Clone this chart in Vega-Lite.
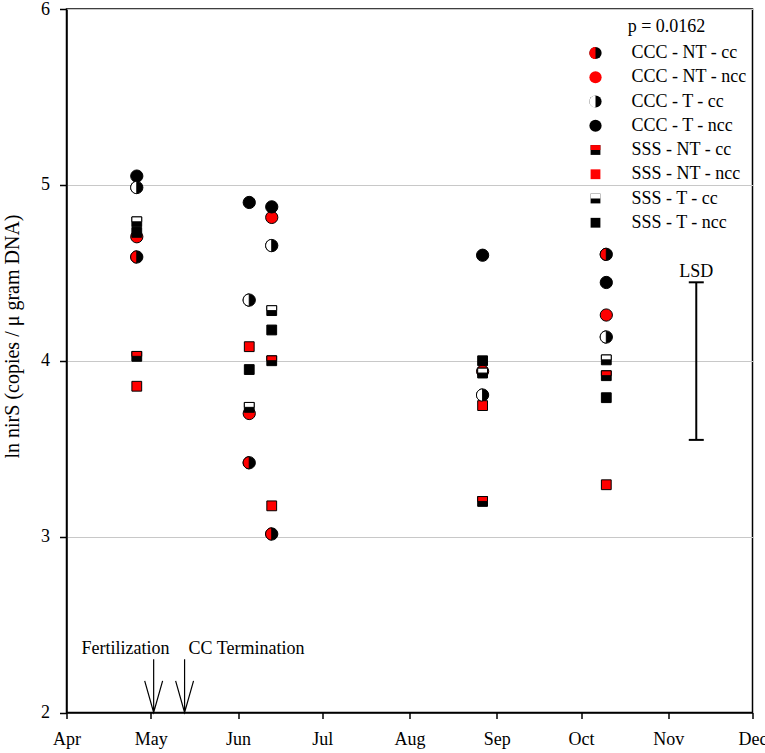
{
  "$schema": "https://vega.github.io/schema/vega-lite/v6.json",
  "description": "ln nirS copies by sampling date, tillage x cover crop treatments",
  "width": 686,
  "height": 703.5,
  "autosize": {"type": "none"},
  "padding": {"left": 66.5, "top": 9, "right": 12.5, "bottom": 40.5},
  "datasets": {
    "points": [
      {"series": "CCC - NT - cc", "date": "2016-04-26", "value": 4.59},
      {"series": "CCC - NT - ncc", "date": "2016-04-26", "value": 4.705},
      {"series": "CCC - T - cc", "date": "2016-04-26", "value": 4.985},
      {"series": "CCC - T - ncc", "date": "2016-04-26", "value": 5.05},
      {"series": "SSS - NT - cc", "date": "2016-04-26", "value": 4.025},
      {"series": "SSS - NT - ncc", "date": "2016-04-26", "value": 3.855},
      {"series": "SSS - T - cc", "date": "2016-04-26", "value": 4.79},
      {"series": "SSS - T - ncc", "date": "2016-04-26", "value": 4.73},

      {"series": "CCC - NT - cc", "date": "2016-06-05", "value": 3.42},
      {"series": "CCC - NT - ncc", "date": "2016-06-05", "value": 3.70},
      {"series": "CCC - T - cc", "date": "2016-06-05", "value": 4.345},
      {"series": "CCC - T - ncc", "date": "2016-06-05", "value": 4.90},
      {"series": "SSS - NT - ncc", "date": "2016-06-05", "value": 4.08},
      {"series": "SSS - T - cc", "date": "2016-06-05", "value": 3.735},
      {"series": "SSS - T - ncc", "date": "2016-06-05", "value": 3.95},

      {"series": "CCC - NT - cc", "date": "2016-06-13", "value": 3.015},
      {"series": "CCC - NT - ncc", "date": "2016-06-13", "value": 4.815},
      {"series": "CCC - T - cc", "date": "2016-06-13", "value": 4.655},
      {"series": "CCC - T - ncc", "date": "2016-06-13", "value": 4.875},
      {"series": "SSS - NT - cc", "date": "2016-06-13", "value": 4.0},
      {"series": "SSS - NT - ncc", "date": "2016-06-13", "value": 3.175},
      {"series": "SSS - T - cc", "date": "2016-06-13", "value": 4.285},
      {"series": "SSS - T - ncc", "date": "2016-06-13", "value": 4.175},

      {"series": "CCC - NT - ncc", "date": "2016-08-27", "value": 3.94},
      {"series": "CCC - T - cc", "date": "2016-08-27", "value": 3.805},
      {"series": "CCC - T - ncc", "date": "2016-08-27", "value": 4.60},
      {"series": "SSS - NT - cc", "date": "2016-08-27", "value": 3.20},
      {"series": "SSS - NT - ncc", "date": "2016-08-27", "value": 3.745},
      {"series": "SSS - T - cc", "date": "2016-08-27", "value": 3.93},
      {"series": "SSS - T - ncc", "date": "2016-08-27", "value": 4.0},

      {"series": "CCC - NT - cc", "date": "2016-10-10", "value": 4.605},
      {"series": "CCC - NT - ncc", "date": "2016-10-10", "value": 4.26},
      {"series": "CCC - T - cc", "date": "2016-10-10", "value": 4.135},
      {"series": "CCC - T - ncc", "date": "2016-10-10", "value": 4.445},
      {"series": "SSS - NT - cc", "date": "2016-10-10", "value": 3.915},
      {"series": "SSS - NT - ncc", "date": "2016-10-10", "value": 3.295},
      {"series": "SSS - T - cc", "date": "2016-10-10", "value": 4.005},
      {"series": "SSS - T - ncc", "date": "2016-10-10", "value": 3.79}
    ],
    "events": [
      {"event": "Fertilization", "date": "2016-05-02", "value": 2},
      {"event": "CC Termination", "date": "2016-05-13", "value": 2}
    ],
    "notes": [
      {"label": "Fertilization", "date": "2016-04-22", "value": 2.335},
      {"label": "CC Termination", "date": "2016-06-04", "value": 2.335},
      {"label": "LSD", "date": "2016-11-11", "value": 4.478}
    ],
    "lsd": [
      {"date": "2016-11-11", "lo": 3.55, "hi": 4.446}
    ]
  },
  "encoding": {
    "x": {
      "field": "date",
      "type": "temporal",
      "scale": {
        "type": "utc",
        "domain": [
          {"year": 2016, "month": 4, "date": 1, "utc": true},
          {"year": 2016, "month": 12, "date": 1, "utc": true}
        ]
      },
      "axis": {
        "title": null,
        "values": [
          {"year": 2016, "month": 4, "date": 1, "utc": true},
          {"year": 2016, "month": 5, "date": 1, "utc": true},
          {"year": 2016, "month": 6, "date": 1, "utc": true},
          {"year": 2016, "month": 7, "date": 1, "utc": true},
          {"year": 2016, "month": 8, "date": 1, "utc": true},
          {"year": 2016, "month": 9, "date": 1, "utc": true},
          {"year": 2016, "month": 10, "date": 1, "utc": true},
          {"year": 2016, "month": 11, "date": 1, "utc": true},
          {"year": 2016, "month": 12, "date": 1, "utc": true}
        ],
        "labelExpr": "utcFormat(datum.value, '%b')",
        "labelFlush": false,
        "labelOverlap": false,
        "labelPadding": 12,
        "tickSize": 6,
        "grid": false
      }
    },
    "y": {
      "field": "value",
      "type": "quantitative",
      "scale": {"domain": [2, 6], "nice": false, "zero": false},
      "axis": {
        "title": "ln nirS (copies / μ gram DNA)",
        "titleFontSize": 20,
        "titleX": -54,
        "titleY": 327,
        "titleAngle": -90,
        "titleAlign": "center",
        "titleBaseline": "middle",
        "values": [2, 3, 4, 5, 6],
        "grid": true,
        "gridColor": "#c8c8c8",
        "gridWidth": 1,
        "tickSize": 7,
        "labelPadding": 10
      }
    }
  },
  "layer": [
    {
      "data": {"name": "points"},
      "mark": {"type": "point", "filled": true, "size": 150, "opacity": 1, "stroke": "black", "strokeWidth": 1},
      "encoding": {
        "shape": {
          "field": "series",
          "type": "nominal",
          "scale": {
            "domain": ["CCC - NT - cc", "CCC - NT - ncc", "CCC - T - cc", "CCC - T - ncc", "SSS - NT - cc", "SSS - NT - ncc", "SSS - T - cc", "SSS - T - ncc"],
            "range": ["circle", "circle", "circle", "circle", "M-0.8,-0.8H0.8V0.8H-0.8Z", "M-0.8,-0.8H0.8V0.8H-0.8Z", "M-0.8,-0.8H0.8V0.8H-0.8Z", "M-0.8,-0.8H0.8V0.8H-0.8Z"]
          },
          "legend": {"title": "p = 0.0162", "orient": "none", "legendX": 520, "legendY": 9, "zindex": 1}
        },
        "fill": {
          "field": "series",
          "type": "nominal",
          "scale": {
            "domain": ["CCC - NT - cc", "CCC - NT - ncc", "CCC - T - cc", "CCC - T - ncc", "SSS - NT - cc", "SSS - NT - ncc", "SSS - T - cc", "SSS - T - ncc"],
            "range": ["black", "#ff0000", "black", "black", "black", "#ff0000", "black", "black"]
          },
          "legend": {"title": "p = 0.0162", "orient": "none", "legendX": 520, "legendY": 9, "zindex": 1}
        }
      }
    },
    {
      "data": {"name": "points"},
      "mark": {"type": "point", "filled": true, "size": 150, "opacity": 1, "stroke": "black", "strokeWidth": 1},
      "encoding": {
        "shape": {
          "field": "series",
          "type": "nominal",
          "scale": {
            "domain": ["CCC - NT - cc", "CCC - NT - ncc", "CCC - T - cc", "CCC - T - ncc", "SSS - NT - cc", "SSS - NT - ncc", "SSS - T - cc", "SSS - T - ncc"],
            "range": ["M0,-1A1,1,0,0,0,0,1Z", "M0,0", "M0,-1A1,1,0,0,0,0,1Z", "M0,0", "M-0.8,-0.8H0.8V0H-0.8Z", "M0,0", "M-0.8,-0.8H0.8V0H-0.8Z", "M0,0"]
          },
          "legend": {"title": "p = 0.0162", "orient": "none", "legendX": 520, "legendY": 9, "zindex": 2, "labelOpacity": 0, "titleOpacity": 0}
        },
        "fill": {
          "field": "series",
          "type": "nominal",
          "scale": {
            "domain": ["CCC - NT - cc", "CCC - NT - ncc", "CCC - T - cc", "CCC - T - ncc", "SSS - NT - cc", "SSS - NT - ncc", "SSS - T - cc", "SSS - T - ncc"],
            "range": ["#ff0000", "white", "white", "white", "#ff0000", "white", "white", "white"]
          },
          "legend": {"title": "p = 0.0162", "orient": "none", "legendX": 520, "legendY": 9, "zindex": 2, "labelOpacity": 0, "titleOpacity": 0}
        }
      }
    },
    {
      "data": {"name": "events"},
      "mark": {
        "type": "point",
        "shape": "M0,-3.33L0,0M-0.56,-1.98L0,0L0.56,-1.98",
        "size": 1024,
        "filled": false,
        "color": "black",
        "strokeWidth": 1.2,
        "opacity": 1
      }
    },
    {
      "data": {"name": "lsd"},
      "mark": {"type": "rule", "color": "black", "strokeWidth": 2},
      "encoding": {
        "y": {"field": "lo", "type": "quantitative"},
        "y2": {"field": "hi"}
      }
    },
    {
      "data": {"name": "lsd"},
      "transform": [{"fold": ["lo", "hi"], "as": ["end", "value"]}],
      "mark": {"type": "tick", "orient": "horizontal", "size": 15, "thickness": 2, "color": "black", "opacity": 1}
    },
    {
      "data": {"name": "notes"},
      "mark": {"type": "text", "align": "center", "baseline": "alphabetic", "fontSize": 18, "color": "black"},
      "encoding": {"text": {"field": "label", "type": "nominal"}}
    }
  ],
  "resolve": {
    "scale": {"shape": "independent", "fill": "independent"},
    "legend": {"shape": "independent", "fill": "independent"}
  },
  "config": {
    "font": "Liberation Serif",
    "background": "white",
    "view": {"stroke": "black", "strokeWidth": 1.5},
    "axis": {
      "domainColor": "black",
      "domainWidth": 1.5,
      "tickColor": "black",
      "tickWidth": 1.5,
      "labelFont": "Liberation Serif",
      "labelFontSize": 18,
      "labelColor": "black",
      "titleFont": "Liberation Serif",
      "titleFontWeight": "normal",
      "titleColor": "black"
    },
    "legend": {
      "padding": 0,
      "symbolSize": 150,
      "symbolStrokeColor": "black",
      "symbolStrokeWidth": 1,
      "labelFont": "Liberation Serif",
      "labelFontSize": 18,
      "labelColor": "black",
      "labelOffset": 27,
      "labelLimit": 300,
      "rowPadding": 6.25,
      "titleFont": "Liberation Serif",
      "titleFontSize": 18,
      "titleFontWeight": "normal",
      "titleColor": "black",
      "titleAnchor": "middle",
      "titlePadding": 8,
      "titleLimit": 300
    }
  }
}
